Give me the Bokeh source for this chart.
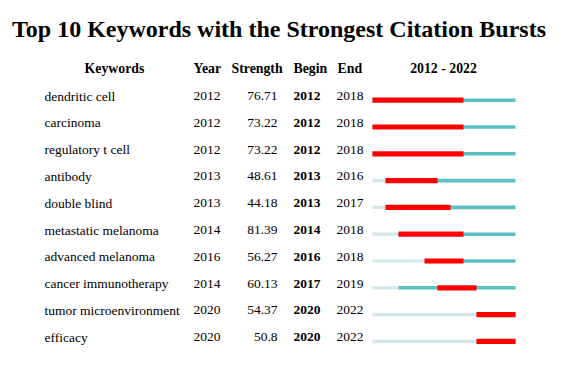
from bokeh.plotting import figure
from bokeh.models import Range1d, ColumnDataSource
from bokeh.core.properties import value
from bokeh.embed import file_html
from bokeh.resources import INLINE

keywords = ["dendritic cell", "carcinoma", "regulatory t cell", "antibody", "double blind",
            "metastatic melanoma", "advanced melanoma", "cancer immunotherapy",
            "tumor microenvironment", "efficacy"]
years = [2012, 2012, 2012, 2013, 2013, 2014, 2016, 2014, 2020, 2020]
strength = ["76.71", "73.22", "73.22", "48.61", "44.18", "81.39", "56.27", "60.13", "54.37", "50.8"]
begin = [2012, 2012, 2012, 2013, 2013, 2014, 2016, 2017, 2020, 2020]
end = [2018, 2018, 2018, 2016, 2017, 2018, 2018, 2019, 2022, 2022]
span_start, span_end = 2012, 2022
headers = ["Keywords", "Year", "Strength", "Begin", "End", "2012 - 2022"]
title = "Top 10 Keywords with the Strongest Citation Bursts"

W, H = 549, 359
row0, dy = 95.5, 26.8
# pixel x of timeline start (2012) and end (2023)
tx0, tx1 = 372.0, 515.0
ppy = (tx1 - tx0) / (span_end + 1 - span_start)

p = figure(width=W, height=H, output_backend="svg", toolbar_location=None,
           x_range=Range1d(0, W), y_range=Range1d((H - row0) / dy, -row0 / dy),
           min_border=0)
p.axis.visible = False
p.grid.visible = False
p.outline_line_color = None
p.background_fill_color = "white"
p.border_fill_color = "white"

yr0 = span_start - tx0 / ppy
p.extra_x_ranges = {"yr": Range1d(yr0, yr0 + W / ppy)}

n = len(keywords)
rows = list(range(n))
serif = value("Liberation Serif")

src = ColumnDataSource(dict(
    row=rows, kw=keywords, yr=[str(y) for y in years], st=strength,
    bg=[str(b) for b in begin], en=[str(e) for e in end],
))

# title
p.text(x=[W / 2 + 4], y=[(28 - row0) / dy], text=[title], text_font=serif, text_font_size="24px",
       text_font_style="bold", text_align="center", text_baseline="middle", text_color="#000000")

# headers
hy = (67.5 - row0) / dy
hx = [114, 193, 231, 293, 337, 443]
ha = ["center", "left", "left", "left", "left", "center"]
for t, x, a in zip(headers, hx, ha):
    p.text(x=[x], y=[hy], text=[t], text_font=serif, text_font_size="13.8px", text_font_style="bold",
           text_align=a, text_baseline="middle", text_color="#000000")

common = dict(text_font=serif, text_font_size="13.5px", text_baseline="middle", text_color="#000000")
p.text(x=44, y="row", text="kw", source=src, text_align="left", **common)
p.text(x=193, y="row", text="yr", source=src, text_align="left", **common)
p.text(x=277, y="row", text="st", source=src, text_align="right", **common)
p.text(x=293, y="row", text="bg", source=src, text_align="left", text_font_style="bold", **common)
p.text(x=336, y="row", text="en", source=src, text_align="left", **common)

boff = 4.2 / dy
bsrc = ColumnDataSource(dict(
    yb=[r + boff for r in rows],
    y0=[float(span_start) for _ in rows], y1=[float(span_end + 1) for _ in rows],
    ys=[float(y) for y in years], b0=[float(b) for b in begin], e1=[float(e + 1) for e in end],
))
p.hbar(y="yb", left="y0", right="ys", height=3.2 / dy, source=bsrc, x_range_name="yr",
       color="#D3E7EA", line_color=None)
p.hbar(y="yb", left="ys", right="y1", height=3.6 / dy, source=bsrc, x_range_name="yr",
       color="#5CC0C3", line_color=None)
p.hbar(y="yb", left="b0", right="e1", height=5.2 / dy, source=bsrc, x_range_name="yr",
       color="#FF0000", line_color=None)

open("out.html", "w").write(file_html(p, INLINE))
